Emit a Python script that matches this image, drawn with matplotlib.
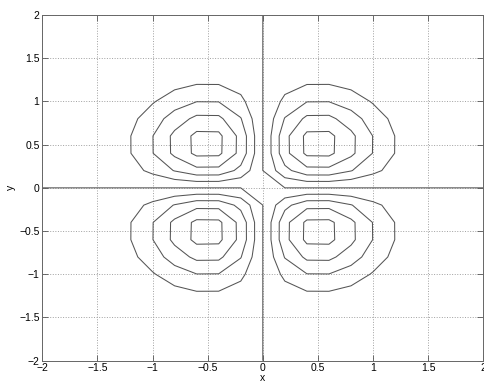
import numpy as np
import matplotlib
matplotlib.use("Agg")
import matplotlib.pyplot as plt

# grid nodes (same on both axes) and the separable profile sampled on them
grid_nodes = [-2.0, -1.8, -1.6, -1.4, -1.2, -1.0, -0.8, -0.6, -0.4, -0.2, 0.0,
              0.2, 0.4, 0.6, 0.8, 1.0, 1.2, 1.4, 1.6, 1.8, 2.0]
profile = [-0.00067, -0.00276, -0.00956, -0.0278, -0.0674, -0.1353, -0.2224,
           -0.2921, -0.2905, -0.1846, 0.0, 0.1846, 0.2905, 0.2921, 0.2224,
           0.1353, 0.0674, 0.0278, 0.00956, 0.00276, 0.00067]
levels = [-0.08, -0.06, -0.04, -0.02, 0.0, 0.02, 0.04, 0.06, 0.08]
ticks = [-2, -1.5, -1, -0.5, 0, 0.5, 1, 1.5, 2]
tick_labels = ["\u22122", "\u22121.5", "\u22121", "\u22120.5", "0", "0.5", "1", "1.5", "2"]

plt.rcParams['font.family'] = ['Liberation Sans', 'DejaVu Sans']

X, Y = np.meshgrid(grid_nodes, grid_nodes)
Z = np.outer(profile, profile)

fig = plt.figure(figsize=(4.85, 3.85), dpi=100)
ax = fig.add_axes([0.0872, 0.0631, 0.9093, 0.898])
ax.contour(X, Y, Z, levels=levels, colors='#555555', linewidths=0.75,
           linestyles='solid')

ax.set_xlim(-2, 2)
ax.set_ylim(-2, 2)
ax.set_xticks(ticks)
ax.set_yticks(ticks)
ax.set_xticklabels(tick_labels)
ax.set_yticklabels(tick_labels)
ax.tick_params(direction='in', length=4, width=0.6, labelsize=7.5,
               top=True, right=True, color='#555555', pad=2)
ax.grid(True, linestyle=':', color='#a0a0a0', linewidth=0.7)
for s in ax.spines.values():
    s.set_color('#666666')
    s.set_linewidth(0.7)
ax.set_xlabel('x', fontsize=7.5, labelpad=0)
ax.set_ylabel('y', fontsize=7.5, labelpad=2)

fig.savefig('out.png', dpi=100)
